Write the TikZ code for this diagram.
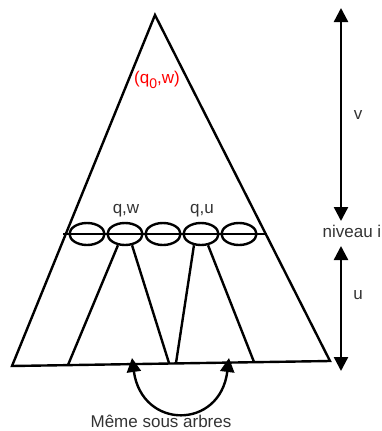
\documentclass[tikz,border=0pt]{standalone}
\usepackage{fontspec}
\setmainfont{Liberation Sans}
\usetikzlibrary{arrows.meta,shapes.geometric}

\begin{document}
\begin{tikzpicture}[
  x=1pt, y=-1pt,
  line width=2.4pt,
  lbl/.style={font=\fontsize{17}{20}\selectfont, inner sep=1pt, text=black!80},
  oval/.style={draw, ellipse, minimum width=35pt, minimum height=22pt, inner sep=0pt},
  >={Triangle[length=14pt,width=14pt]}
]
\useasboundingbox (0,0) rectangle (382,431);
% grand arbre
\coordinate (top) at (155,15);
\coordinate (bl) at (12,366);
\coordinate (br) at (330,361);
\draw (top) -- (bl) -- (br) -- cycle;
\node[lbl, text=red] (root) at (157,80) {(q\raisebox{-5pt}{\fontsize{14}{15}\selectfont 0},w)};
% niveau i
\coordinate (nl) at (63,234);
\coordinate (nr) at (267,234);
\draw (nl) -- (nr);
\foreach \i/\x in {1/87,2/125,3/163,4/201,5/239}
  \node[oval] (e\i) at (\x,234) {};
\node[lbl] (qw) at (126,211) {q,w};
\node[lbl] (qu) at (202,211) {q,u};
% sous arbres
\coordinate (b1) at (68,365);
\coordinate (b2) at (169,363);
\coordinate (b3) at (176,363);
\coordinate (b4) at (254,362);
\draw (e2.-122) -- (b1);
\draw (e2.-58) -- (b2);
\draw (e4.-122) -- (b3);
\draw (e4.-58) -- (b4);
% hauteurs
\coordinate (h0) at (341,8);
\coordinate (h1) at (341,221);
\coordinate (h2) at (341,246);
\coordinate (h3) at (341,371);
\draw[<->] (h0) -- (h1);
\draw[<->] (h2) -- (h3);
\node[lbl] (v) at (358,115) {v};
\node[lbl] (niv) at (352,231) {niveau i};
\node[lbl] (u) at (358,295) {u};
% meme sous arbres
\coordinate (s1) at (132,358);
\coordinate (s2) at (229,358);
\draw[<->] (s1) .. controls (142,430) and (220,430) .. (s2);
\node[lbl] (same) at (161,421) {Même sous arbres};
\end{tikzpicture}
\end{document}
